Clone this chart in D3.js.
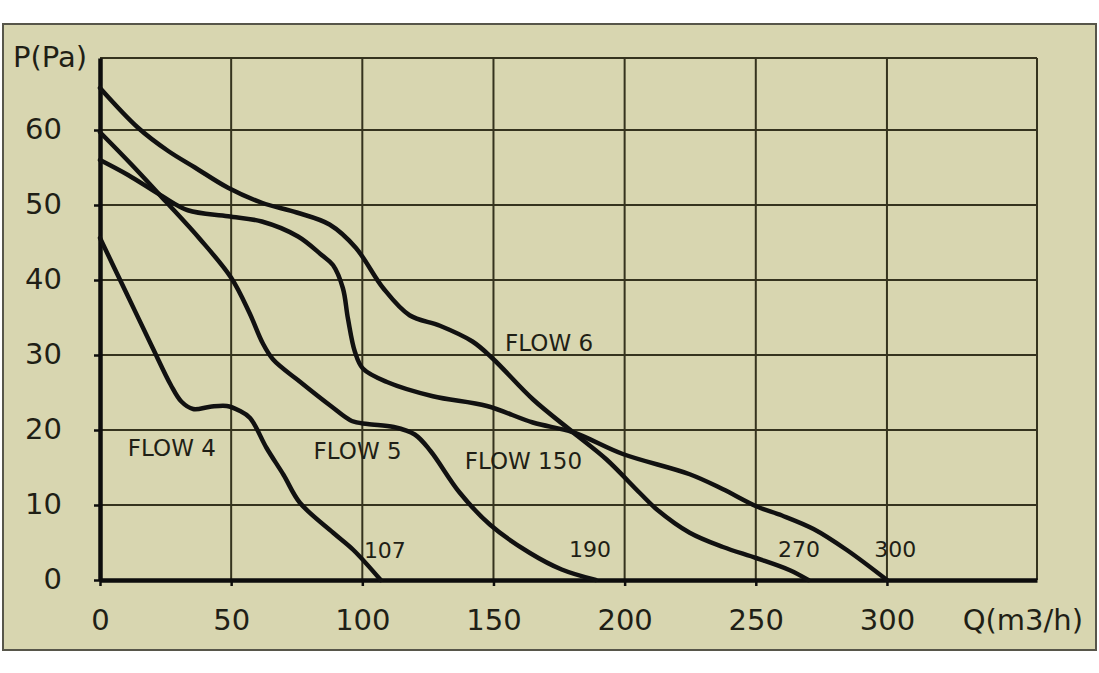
<!DOCTYPE html>
<html lang="en">
<head>
  <meta charset="UTF-8">
  <title>P(Pa) / Q(m3/h)</title>
  <script src="https://d3js.org/d3.v7.min.js"></script>
  <style>
    body { margin: 0; background: #fff; }
    text { font-family: "DejaVu Sans", sans-serif; fill: #1f1f16; }
    .curve { fill: none; stroke: #111; stroke-width: 4.5px; stroke-linejoin: round; stroke-linecap: round; }
    .grid line { stroke: #35331e; stroke-width: 2px; }
  </style>
</head>
<body>
  <svg width="1099" height="673"></svg>

  <script>
    // ticks
    const qTicks = [0, 50, 100, 150, 200, 250, 300];
    const pTicks = [0, 10, 20, 30, 40, 50, 60];
    const qMax = 357.2;
    const pMax = 69.6;

    // curves: [Q, P]
    const flow4 = [[0, 45.6], [10, 38.3], [20, 31], [27, 26], [31, 23.8], [35.5, 22.8],
      [42, 23.1], [48.3, 23.2], [53, 22.6], [57.2, 21.6], [63.5, 17.6], [70, 14],
      [76.2, 10.3], [88.9, 6.3], [96.6, 4], [107, 0]];
    const flow5 = [[0, 59.7], [12, 55.4], [25, 50.5], [38, 45.5], [50, 40.3], [57, 35.6],
      [62, 31.6], [66, 29.4], [76, 26.5], [88, 23.2], [96, 21.2], [102, 20.8],
      [112, 20.4], [120, 19.4], [126, 17.2], [137, 11.7], [148.6, 7.4], [163.9, 3.6],
      [176, 1.4], [189, 0]];
    const flow6 = [[0, 65.6], [14.5, 60.3], [26, 57.2], [36.2, 55], [48.8, 52.3], [61.7, 50.3],
      [75, 49], [87.5, 47.4], [97.5, 44.3], [108, 38.9], [118, 35.3], [129.6, 33.9],
      [142, 31.8], [149.8, 29.5], [165, 24.1], [180.3, 19.7], [193, 16.1], [205.8, 11.6],
      [212.3, 9.4], [224.8, 6.3], [237.5, 4.4], [250.4, 2.9], [263, 1.3], [270, 0]];
    const flow150 = [[0, 56], [10.7, 54], [23.6, 51.2], [33.5, 49.3], [48.8, 48.5], [61.7, 47.8],
      [75.5, 45.8], [84.6, 43.3], [88.8, 42], [92.6, 38.9], [94.5, 34.9], [97.2, 30.4],
      [100.2, 28.2], [109.4, 26.4], [126.9, 24.5], [147.5, 23.2], [165, 21], [180.3, 19.7],
      [199.3, 16.8], [224.8, 14.1], [237.5, 12.1], [250.4, 9.8], [260, 8.6], [272, 6.8],
      [284.7, 4], [300, 0]];
    const curves = [flow4, flow5, flow6, flow150];

    // labels in chart units
    const curveLabels = [
      { text: "FLOW 4", q: 27.4, p: 17.7 },
      { text: "FLOW 5", q: 98.2, p: 17.2 },
      { text: "FLOW 150", q: 161.4, p: 15.9 },
      { text: "FLOW 6", q: 171.2, p: 31.7 }
    ];
    const endLabels = [
      { text: "107", q: 108.6, p: 4.0 },
      { text: "190", q: 186.8, p: 4.1 },
      { text: "270", q: 266.5, p: 4.1 },
      { text: "300", q: 303.2, p: 4.1 }
    ];

    const svg = d3.select("svg");

    // panel
    svg.append("rect")
      .attr("x", 3).attr("y", 24).attr("width", 1093).attr("height", 626)
      .attr("fill", "#d8d6b0")
      .attr("stroke", "#57564a").attr("stroke-width", 2);

    const x = d3.scaleLinear().domain([0, qMax]).range([100, 1037]);
    const y = d3.scaleLinear().domain([0, pMax]).range([580, 58]);

    // grid
    const grid = svg.append("g").attr("class", "grid");
    grid.selectAll(".gy").data(pTicks.slice(1).concat([pMax])).join("line")
      .attr("x1", x(0)).attr("x2", x(qMax))
      .attr("y1", d => y(d)).attr("y2", d => y(d));
    grid.selectAll(".gx").data(qTicks.slice(1).concat([qMax])).join("line")
      .attr("class", "gx")
      .attr("y1", y(0)).attr("y2", y(pMax))
      .attr("x1", d => x(d)).attr("x2", d => x(d));

    // axes
    const yAxis = svg.append("g")
      .attr("transform", `translate(${x(0)},0)`)
      .call(d3.axisLeft(y).tickValues(pTicks).tickSize(6).tickSizeOuter(0).tickPadding(32));
    const xAxis = svg.append("g")
      .attr("transform", `translate(0,${y(0)})`)
      .call(d3.axisBottom(x).tickValues(qTicks).tickSize(6).tickSizeOuter(0));

    [yAxis, xAxis].forEach(g => {
      g.select(".domain").attr("stroke", "#0d0d0d").attr("stroke-width", 4.5);
      g.selectAll(".tick line").attr("stroke", "#0d0d0d").attr("stroke-width", 2.5);
      g.selectAll("text").attr("font-size", 29).attr("fill", "#1f1f16")
        .attr("font-family", "DejaVu Sans, sans-serif");
    });
    yAxis.selectAll("text").attr("dy", "0.3em");
    xAxis.selectAll("text").attr("y", 40).attr("dy", "0.36em");

    svg.append("text").attr("x", 13).attr("y", 67)
      .attr("font-size", 29).text("P(Pa)");
    svg.append("text").attr("x", 1083).attr("y", 620).attr("dy", "0.36em")
      .attr("text-anchor", "end").attr("font-size", 29).text("Q(m3/h)");

    // curves
    const line = d3.line()
      .x(d => x(d[0]))
      .y(d => y(d[1]))
      .curve(d3.curveCatmullRom.alpha(0.5));

    svg.append("g").selectAll("path").data(curves).join("path")
      .attr("class", "curve")
      .attr("d", line);

    svg.append("g").selectAll("text").data(curveLabels).join("text")
      .attr("x", d => x(d.q)).attr("y", d => y(d.p))
      .attr("dy", "0.36em").attr("text-anchor", "middle")
      .attr("font-size", 23).text(d => d.text);

    svg.append("g").selectAll("text").data(endLabels).join("text")
      .attr("x", d => x(d.q)).attr("y", d => y(d.p))
      .attr("dy", "0.36em").attr("text-anchor", "middle")
      .attr("font-size", 22).text(d => d.text);
  </script>
</body>
</html>
